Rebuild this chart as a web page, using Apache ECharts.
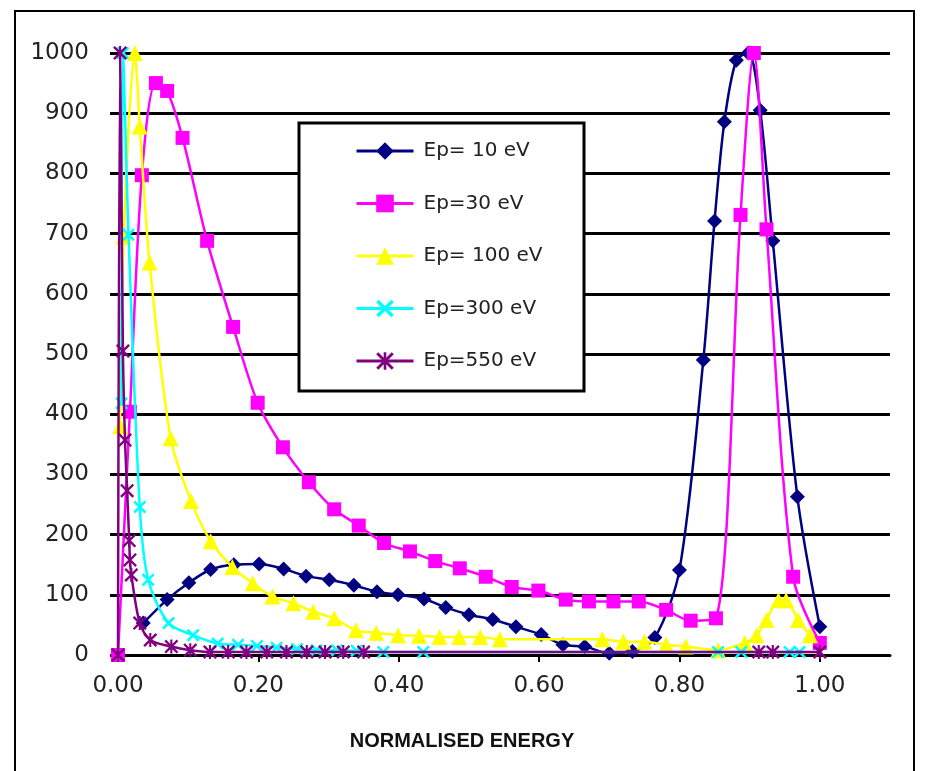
<!DOCTYPE html>
<html><head><meta charset="utf-8">
<script src="https://cdn.jsdelivr.net/npm/echarts@6/dist/echarts.min.js"></script>
<style>html,body{margin:0;padding:0;background:#fff}#c{width:927px;height:771px}</style>
</head><body><div id="c"></div>
<script>
const seriesNames = ['Ep= 10 eV', 'Ep=30 eV', 'Ep= 100 eV', 'Ep=300 eV', 'Ep=550 eV'];

const ep10X = [0.036, 0.070, 0.101, 0.132, 0.165, 0.201, 0.236, 0.268, 0.301, 0.336, 0.369, 0.399, 0.436, 0.467, 0.500, 0.534, 0.567, 0.603, 0.634, 0.665, 0.700, 0.733, 0.765, 0.800, 0.834, 0.850, 0.864, 0.881, 0.898, 0.915, 0.933, 0.968, 1.000];
const ep10Y = [53, 92, 120, 142, 150, 151, 143, 131, 125, 116, 105, 100, 93, 79, 67, 59, 47, 34, 17, 14, 3, 6, 29, 141, 490, 721, 886, 988, 1000, 905, 688, 263, 47];

const ep30X = [0, 0.017, 0.034, 0.054, 0.070, 0.092, 0.127, 0.164, 0.199, 0.235, 0.272, 0.308, 0.343, 0.379, 0.416, 0.452, 0.487, 0.524, 0.561, 0.599, 0.638, 0.671, 0.706, 0.742, 0.781, 0.816, 0.852, 0.887, 0.906, 0.924, 0.962, 1.000];
const ep30Y = [0, 404, 797, 950, 937, 859, 688, 545, 419, 345, 287, 242, 215, 186, 172, 156, 144, 130, 113, 107, 92, 89, 89, 89, 75, 57, 61, 731, 1000, 707, 130, 20];

const ep100X = [0.003, 0.008, 0.024, 0.031, 0.045, 0.075, 0.104, 0.132, 0.163, 0.192, 0.220, 0.250, 0.278, 0.308, 0.339, 0.368, 0.399, 0.429, 0.458, 0.486, 0.516, 0.544, 0.690, 0.720, 0.750, 0.781, 0.809, 0.855, 0.893, 0.910, 0.924, 0.941, 0.952, 0.969, 0.986];
const ep100Y = [380, 695, 1000, 878, 652, 360, 256, 189, 146, 119, 97, 86, 72, 61, 41, 37, 33, 32, 30, 30, 30, 26, 26, 22, 22, 17, 14, 8, 20, 33, 58, 91, 91, 58, 33];

const ep300X = [0.005, 0.007, 0.015, 0.031, 0.043, 0.072, 0.107, 0.142, 0.171, 0.198, 0.226, 0.255, 0.283, 0.312, 0.340, 0.378, 0.435, 0.855, 0.888, 0.957, 0.971];
const ep300Y = [418, 1000, 698, 246, 125, 53, 33, 19, 17, 15, 12, 10, 8, 8, 7, 5, 5, 5, 5, 5, 5];

const ep550X = [0, 0.003, 0.007, 0.010, 0.013, 0.016, 0.017, 0.019, 0.031, 0.046, 0.076, 0.103, 0.131, 0.157, 0.183, 0.212, 0.240, 0.269, 0.295, 0.321, 0.350, 0.913, 0.933, 1.000];
const ep550Y = [0, 1000, 505, 357, 273, 190, 158, 133, 53, 25, 14, 8, 5, 5, 5, 5, 5, 5, 5, 5, 5, 5, 5, 5];

const xTicks = [0, 0.2, 0.4, 0.6, 0.8, 1.0];
const yTicks = [0, 100, 200, 300, 400, 500, 600, 700, 800, 900, 1000];
const xTitle = 'NORMALISED ENERGY';

const colors = ['#000080', '#FF00FF', '#FFFF00', '#00FFFF', '#800080'];
const symX = 'path://M0,1.4L1.4,0L5,3.6L8.6,0L10,1.4L6.4,5L10,8.6L8.6,10L5,6.4L1.4,10L0,8.6L3.6,5Z';
const symStar = 'path://M0,1.2L1.2,0L5,3.8L8.8,0L10,1.2L6.2,5L10,8.8L8.8,10L5,6.2L1.2,10L0,8.8L3.8,5Z M4.25,0L5.75,0L5.75,10L4.25,10Z';
const symbols = ['diamond', 'rect', 'triangle', symX, symStar];
const sizes = [15, 14, 16, 13, 14];

const zip = (xs, ys) => xs.map((x, i) => [x, ys[i]]);
const allData = [zip(ep10X, ep10Y), zip(ep30X, ep30Y), zip(ep100X, ep100Y), zip(ep300X, ep300Y), zip(ep550X, ep550Y)];

const chart = echarts.init(document.getElementById('c'), null, {renderer: 'canvas'});
const font = 'DejaVu Sans';
chart.setOption({
  backgroundColor: '#fff',
  animation: false,
  grid: {left: 118, right: 37, top: 53, bottom: 116, containLabel: false},
  xAxis: {
    type: 'value', min: 0, max: 1.1, interval: 0.2,
    axisLine: {show: true, onZero: false, lineStyle: {color: '#000', width: 3}},
    axisTick: {show: true, length: 7, lineStyle: {color: '#000', width: 2}, customValues: xTicks},
    axisLabel: {show: true, margin: 20, customValues: xTicks, fontFamily: font, fontSize: 23, color: '#222',
      formatter: v => (v > 1.0001 ? '' : v.toFixed(2))},
    splitLine: {show: false}
  },
  yAxis: {
    type: 'value', min: 0, max: 1000, interval: 100,
    axisLine: {show: false},
    axisTick: {show: true, length: 8, lineStyle: {color: '#000', width: 3}},
    axisLabel: {show: true, margin: 29, fontFamily: font, fontSize: 23, color: '#222', customValues: yTicks,
      formatter: v => String(v)},
    splitLine: {show: true, lineStyle: {color: '#000', width: 3}}
  },
  legend: {
    show: true, orient: 'vertical', left: 355, top: 140, padding: 0,
    itemWidth: 57, itemHeight: 22, itemGap: 30.5, z: 20,
    data: seriesNames,
    lineStyle: {width: 3},
    textStyle: {fontFamily: font, fontSize: 20, color: '#222', lineHeight: 22, padding: [0, 0, 0, 5]}
  },
  graphic: [
    {type: 'rect', z: 0, silent: true, shape: {x: 15, y: 11, width: 899, height: 800}, style: {fill: 'none', stroke: '#000', lineWidth: 2}},
    {type: 'rect', z: 10, silent: true, shape: {x: 299, y: 123, width: 285, height: 268}, style: {fill: '#fff', stroke: '#000', lineWidth: 3}},
    {type: 'text', z: 10, silent: true, x: 462, y: 741, style: {text: xTitle, font: 'bold 20px "Liberation Sans", Arial, sans-serif', fill: '#111', textAlign: 'center', textVerticalAlign: 'middle'}}
  ],
  series: allData.map((d, i) => ({
    name: seriesNames[i], type: 'line', data: d,
    smooth: 0.3,
    symbol: symbols[i], symbolSize: sizes[i], showAllSymbol: true,
    lineStyle: {color: colors[i], width: 2.5},
    itemStyle: {color: colors[i]},
    z: 2 + i
  }))
});
</script></body></html>
